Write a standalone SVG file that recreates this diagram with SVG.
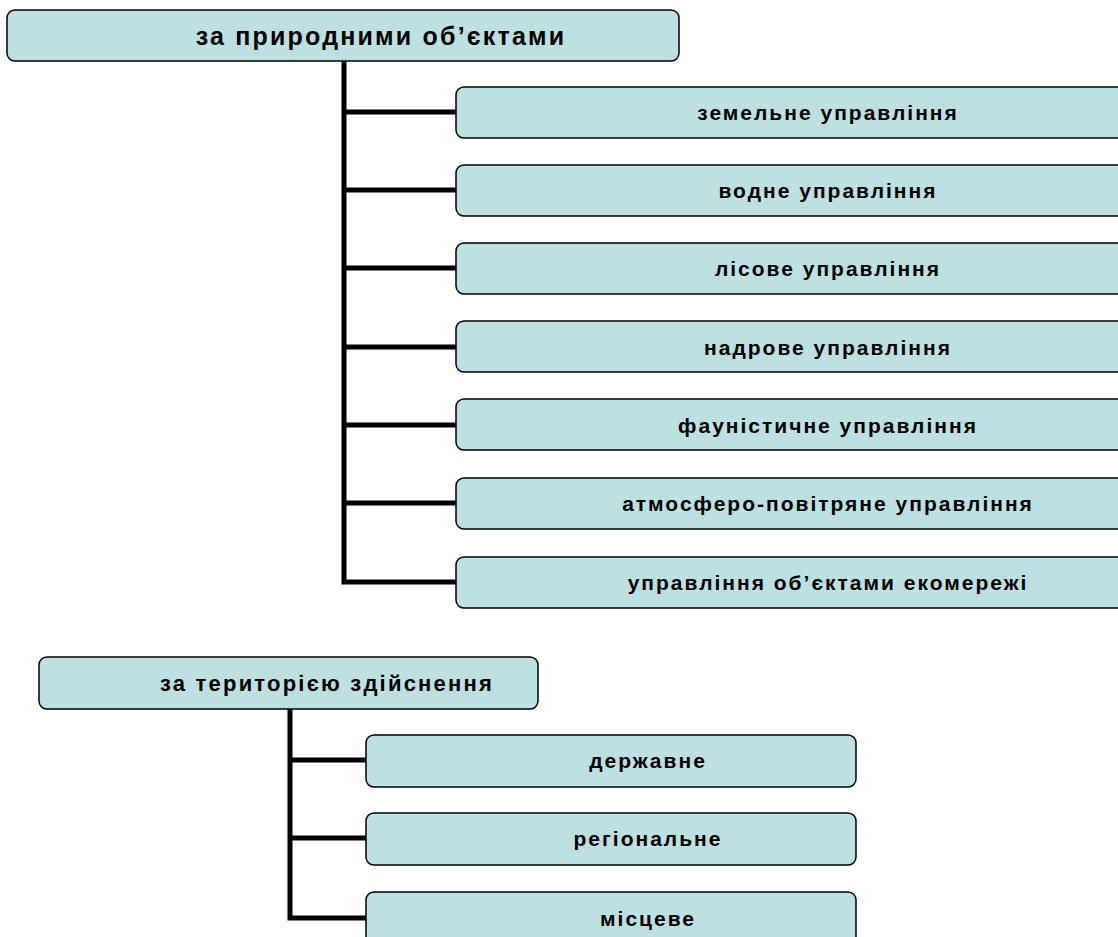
<svg xmlns="http://www.w3.org/2000/svg" width="1118" height="937" viewBox="0 0 1118 937">
<style>
.box{fill:#bde0e3;stroke:#000;stroke-width:1.5}
.t{font-family:"Liberation Sans",Arial,sans-serif;font-weight:bold;fill:#000;text-anchor:middle;dominant-baseline:central}
.c{font-size:21px;letter-spacing:2px}
.h{font-size:25px;letter-spacing:2.2px}
.h2{font-size:22px;letter-spacing:2.2px}
.conn{fill:none;stroke:#000;stroke-width:5;stroke-linejoin:miter}
</style>
<rect width="1118" height="937" fill="#fff"/>
<g id="connectors">
<path class="conn" d="M344 61 V582 H456"/>
<path class="conn" d="M344 112 H456 M344 190 H456 M344 268 H456 M344 347 H456 M344 425 H456 M344 503 H456"/>
<path class="conn" d="M290 709 V918 H366"/>
<path class="conn" d="M290 760 H366 M290 838 H366"/>
</g>
<g id="n-root1"><rect class="box" x="7" y="10" width="672" height="51" rx="8"/><text class="t h" x="381" y="36">за природними об’єктами</text></g>
<g id="n-land"><rect class="box" x="456" y="87" width="760" height="51" rx="8"/><text class="t c" x="828" y="112">земельне управління</text></g>
<g id="n-water"><rect class="box" x="456" y="165" width="760" height="51" rx="8"/><text class="t c" x="828" y="190">водне управління</text></g>
<g id="n-forest"><rect class="box" x="456" y="243" width="760" height="51" rx="8"/><text class="t c" x="828" y="268">лісове управління</text></g>
<g id="n-subsoil"><rect class="box" x="456" y="321" width="760" height="51" rx="8"/><text class="t c" x="828" y="347">надрове управління</text></g>
<g id="n-fauna"><rect class="box" x="456" y="399" width="760" height="51" rx="8"/><text class="t c" x="828" y="425">фауністичне управління</text></g>
<g id="n-air"><rect class="box" x="456" y="478" width="760" height="51" rx="8"/><text class="t c" x="828" y="503">атмосферо-повітряне управління</text></g>
<g id="n-eco"><rect class="box" x="456" y="557" width="760" height="51" rx="8"/><text class="t c" x="828" y="582">управління об’єктами екомережі</text></g>
<g id="n-root2"><rect class="box" x="39" y="657" width="499" height="52" rx="8"/><text class="t h2" x="327" y="683">за територією здійснення</text></g>
<g id="n-state"><rect class="box" x="366" y="735" width="490" height="52" rx="8"/><text class="t c" x="648" y="760">державне</text></g>
<g id="n-region"><rect class="box" x="366" y="813" width="490" height="52" rx="8"/><text class="t c" x="648" y="838">регіональне</text></g>
<g id="n-local"><rect class="box" x="366" y="892" width="490" height="60" rx="8"/><text class="t c" x="648" y="918">місцеве</text></g>
</svg>
